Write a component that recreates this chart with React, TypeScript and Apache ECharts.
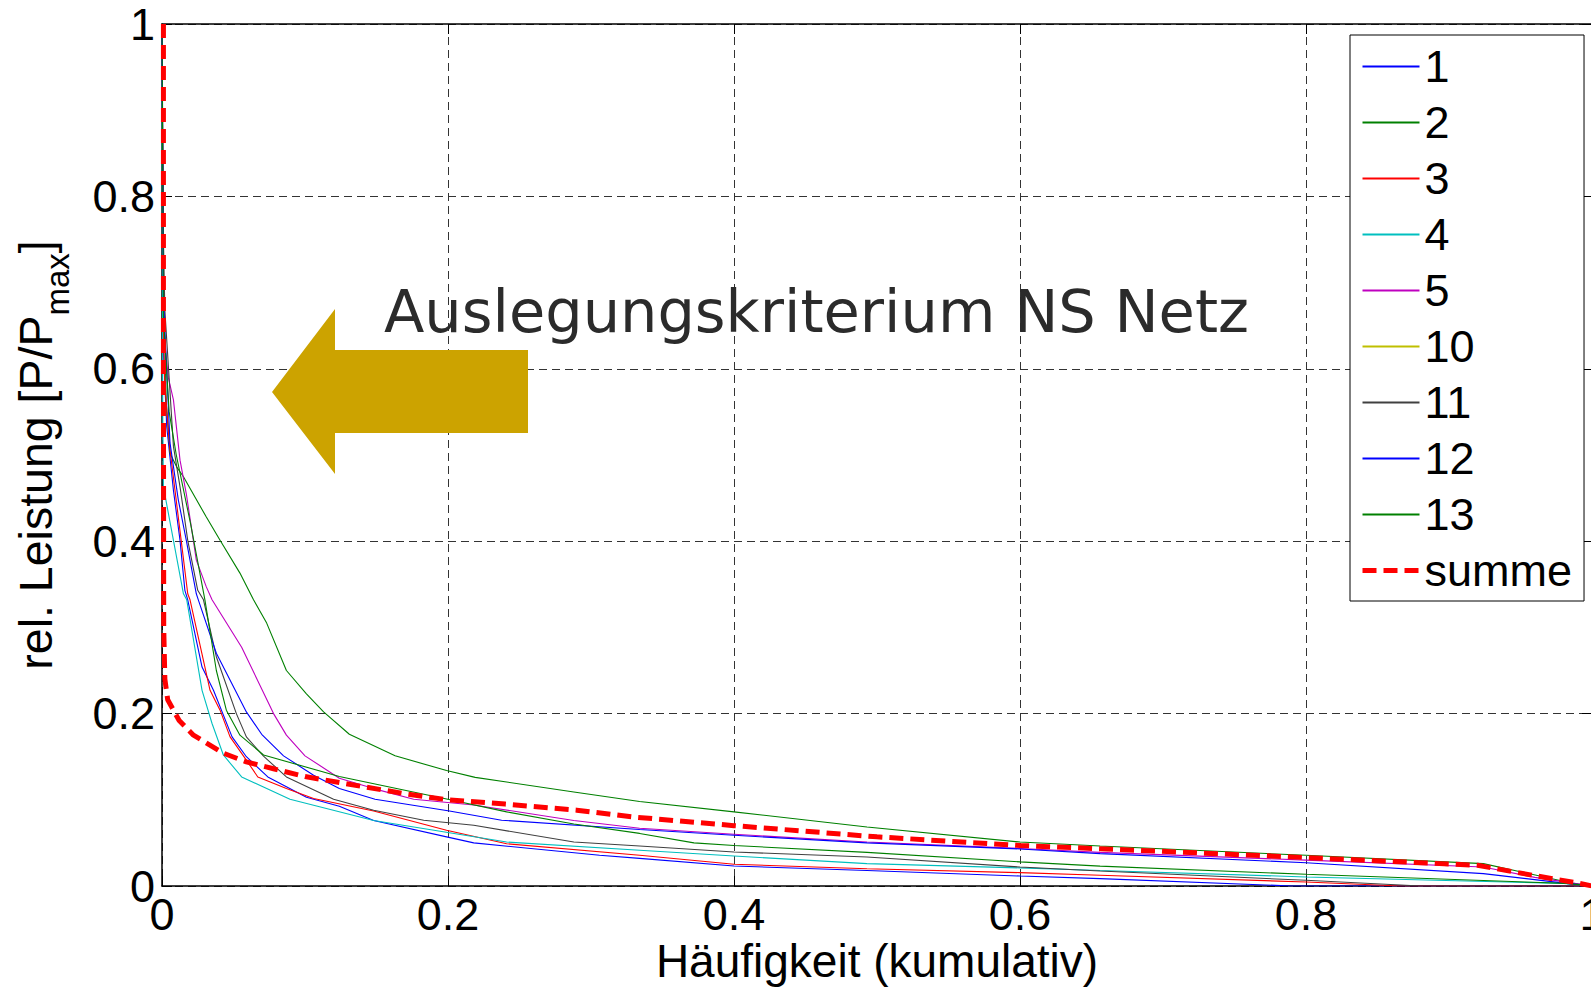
import React, { useEffect, useRef } from 'react';
import * as echarts from 'echarts';

const FONT = "'Liberation Sans', Arial, Helvetica, sans-serif";

const seriesNames = ['1', '2', '3', '4', '5', '10', '11', '12', '13', 'summe'];
const seriesColors = ['#0000ff', '#008000', '#ff0000', '#00bfbf', '#bf00bf', '#bfbf00', '#404040', '#0000ff', '#008000', '#ff0000'];

const s1 = [[0,1],[0.001,0.62],[0.0033,0.533],[0.008,0.459],[0.0126,0.401],[0.016,0.343],[0.018,0.332],[0.028,0.254],[0.036,0.227],[0.049,0.173],[0.059,0.15],[0.074,0.1265],[0.101,0.103],[0.124,0.0925],[0.148,0.076],[0.199,0.057],[0.218,0.05],[0.306,0.0356],[0.334,0.032],[0.4,0.0232],[0.493,0.018],[0.6,0.0116],[0.656,0.0086],[0.79,0],[1,0]];
const s2 = [[0,1],[0.001,0.7],[0.003,0.56],[0.0056,0.502],[0.0103,0.486],[0.0149,0.475],[0.031,0.428],[0.0406,0.401],[0.0545,0.363],[0.064,0.332],[0.0732,0.305],[0.087,0.25],[0.101,0.223],[0.113,0.202],[0.131,0.176],[0.163,0.151],[0.199,0.134],[0.219,0.126],[0.288,0.109],[0.334,0.098],[0.4,0.086],[0.493,0.0685],[0.6,0.051],[0.656,0.0464],[0.8,0.0356],[0.924,0.026],[0.987,0.003],[1,0]];
const s3 = [[0,1],[0.001,0.64],[0.002,0.58],[0.0056,0.506],[0.0114,0.428],[0.018,0.339],[0.0196,0.332],[0.0336,0.227],[0.0406,0.204],[0.0476,0.173],[0.059,0.146],[0.067,0.1265],[0.087,0.113],[0.106,0.1015],[0.148,0.087],[0.199,0.0647],[0.241,0.049],[0.334,0.0356],[0.4,0.0252],[0.493,0.02],[0.6,0.0155],[0.656,0.0124],[0.8,0.0046],[0.866,0],[1,0]];
const s4 = [[0,1],[0.0005,0.55],[0.001,0.463],[0.008,0.401],[0.015,0.339],[0.0173,0.332],[0.028,0.227],[0.035,0.1885],[0.0429,0.152],[0.0557,0.1265],[0.0895,0.1006],[0.148,0.076],[0.241,0.051],[0.334,0.0414],[0.4,0.0348],[0.493,0.026],[0.6,0.021],[0.656,0.018],[0.8,0.0105],[0.98,0.003],[1,0]];
const s5 = [[0,1],[0.001,0.7],[0.002,0.63],[0.0044,0.59],[0.008,0.564],[0.0126,0.494],[0.017,0.455],[0.024,0.378],[0.031,0.347],[0.035,0.332],[0.0557,0.277],[0.078,0.2],[0.087,0.175],[0.1,0.151],[0.124,0.125],[0.148,0.113],[0.176,0.1006],[0.218,0.094],[0.288,0.076],[0.334,0.067],[0.4,0.06],[0.493,0.051],[0.6,0.0435],[0.656,0.039],[0.8,0.03],[0.924,0.022],[0.96,0.01],[1,0]];
const s10: number[][] = [];
const s11 = [[0,1],[0.001,0.75],[0.002,0.668],[0.008,0.51],[0.0126,0.463],[0.018,0.401],[0.025,0.343],[0.029,0.332],[0.038,0.266],[0.052,0.2],[0.059,0.173],[0.071,0.1506],[0.087,0.1265],[0.12,0.1006],[0.148,0.0879],[0.183,0.0763],[0.218,0.0705],[0.288,0.051],[0.334,0.0464],[0.4,0.0395],[0.493,0.0337],[0.6,0.022],[0.656,0.0174],[0.8,0.0066],[0.88,0],[1,0]];
const s12 = [[0,1],[0.001,0.68],[0.0056,0.514],[0.0114,0.448],[0.017,0.401],[0.024,0.339],[0.0254,0.332],[0.038,0.27],[0.059,0.202],[0.0697,0.176],[0.085,0.151],[0.106,0.1285],[0.124,0.113],[0.149,0.1006],[0.201,0.087],[0.2375,0.0763],[0.334,0.0655],[0.4,0.0589],[0.493,0.05],[0.6,0.043],[0.656,0.0376],[0.8,0.027],[0.924,0.0144],[0.982,0.003],[1,0]];
const s13 = [[0,1],[0.001,0.66],[0.005,0.55],[0.01,0.5],[0.02,0.42],[0.03,0.332],[0.038,0.25],[0.045,0.204],[0.0545,0.175],[0.071,0.152],[0.124,0.127],[0.199,0.101],[0.241,0.086],[0.288,0.072],[0.334,0.061],[0.372,0.05],[0.4,0.047],[0.493,0.039],[0.6,0.028],[0.656,0.023],[0.8,0.0136],[0.982,0.003],[1,0]];
const summe = [[0.001,1],[0.001,0.6],[0.0012,0.3],[0.002,0.24],[0.004,0.216],[0.012,0.192],[0.022,0.175],[0.043,0.154],[0.059,0.144],[0.078,0.136],[0.1,0.127],[0.124,0.12],[0.17,0.107],[0.2,0.1],[0.24,0.095],[0.29,0.088],[0.33,0.08],[0.4,0.07],[0.5,0.057],[0.6,0.047],[0.66,0.043],[0.8,0.033],[0.92,0.024],[0.96,0.012],[0.99,0.0035],[1,0]];

const seriesData = [s1, s2, s3, s4, s5, s10, s11, s12, s13, summe];

const xLabelText = 'Häufigkeit (kumulativ)';
const annotationText = 'Auslegungskriterium NS Netz';

const SUM_LINE = { width: 5, type: [14, 7] as number[] };

export default function App() {
  const ref = useRef<HTMLDivElement>(null);
  useEffect(() => {
    if (!ref.current) return;
    const chart = echarts.init(ref.current, undefined, { renderer: 'svg' });
    const axisCommon = {
      min: 0, max: 1, interval: 0.2,
      axisLine: { show: true, onZero: false, lineStyle: { color: '#000', width: 1.5 } },
      axisTick: { show: true, inside: true, length: 10, lineStyle: { color: '#000', width: 1 } },
    };
    const series = seriesNames.map((name, i) => {
      const isSum = name === 'summe';
      return {
        name,
        type: 'line',
        data: seriesData[i],
        showSymbol: false,
        symbol: 'none',
        lineStyle: isSum
          ? { color: seriesColors[i], width: SUM_LINE.width, type: SUM_LINE.type }
          : { color: seriesColors[i], width: 1.1 },
        itemStyle: { color: seriesColors[i] },
        z: isSum ? 5 : 3,
      };
    });
    chart.setOption({
      animation: false,
      backgroundColor: '#fff',
      grid: { left: 162, top: 24, width: 1430, height: 862, containLabel: false, outerBoundsMode: 'none' },
      xAxis: [
        {
          ...axisCommon,
          type: 'value',
          position: 'bottom',
          name: xLabelText,
          nameLocation: 'middle',
          nameGap: 52,
          nameMoveOverlap: false,
          nameTextStyle: { fontSize: 46, fontFamily: FONT, color: '#000', lineHeight: 46 },
          axisLabel: { fontSize: 45, fontFamily: FONT, color: '#000', margin: 6 },
          splitLine: { show: true, lineStyle: { color: '#333', width: 1, type: [8, 5] } },
        },
        {
          ...axisCommon,
          type: 'value',
          position: 'top',
          axisLabel: { show: false },
          splitLine: { show: false },
        },
      ],
      yAxis: [
        {
          ...axisCommon,
          type: 'value',
          position: 'left',
          name: '{a|rel. Leistung [P/P}{b|max}{a|]}',
          nameLocation: 'middle',
          nameRotate: 90,
          nameGap: 88,
          nameMoveOverlap: false,
          nameTextStyle: {
            fontSize: 46, fontFamily: FONT, color: '#000',
            rich: {
              a: { fontSize: 46.5, fontFamily: FONT, color: '#000' },
              b: { fontSize: 33, fontFamily: FONT, color: '#000', padding: [43, 0, 0, 0] },
            },
          },
          axisLabel: { fontSize: 45, fontFamily: FONT, color: '#000', margin: 7 },
          splitLine: { show: true, lineStyle: { color: '#333', width: 1, type: [8, 5] } },
        },
        {
          ...axisCommon,
          type: 'value',
          position: 'right',
          axisLabel: { show: false },
          splitLine: { show: false },
        },
      ],
      legend: {
        orient: 'vertical',
        left: 1350,
        top: 35,
        padding: [9, 12, 8, 10],
        itemGap: 11,
        itemWidth: 57,
        itemHeight: 14,
        itemStyle: { opacity: 0 },
        borderColor: '#000',
        borderWidth: 1,
        backgroundColor: '#fff',
        textStyle: { fontSize: 45, fontFamily: FONT, color: '#000', lineHeight: 45 },
        data: seriesNames.map((name) =>
          name === 'summe'
            ? { name, lineStyle: { width: SUM_LINE.width, type: SUM_LINE.type }, itemStyle: { opacity: 0 } }
            : { name, itemStyle: { opacity: 0 } }
        ),
      },
      graphic: [
        {
          type: 'polygon',
          z: 10,
          shape: { points: [[272, 392], [335, 309], [335, 350], [528, 350], [528, 433], [335, 433], [335, 474]] },
          style: { fill: '#cca300' },
        },
        {
          type: 'text',
          z: 10,
          x: 384,
          y: 311,
          style: {
            text: annotationText,
            fontSize: 59,
            fontFamily: "'DejaVu Sans', sans-serif",
            fill: '#2b2b2b',
            textAlign: 'left',
            textVerticalAlign: 'middle',
            align: 'left',
            verticalAlign: 'middle',
          },
        },
      ],
      series,
    });
    return () => chart.dispose();
  }, []);
  return <div ref={ref} style={{ position: 'absolute', left: 0, top: 0, width: 1591, height: 989 }} />;
}
